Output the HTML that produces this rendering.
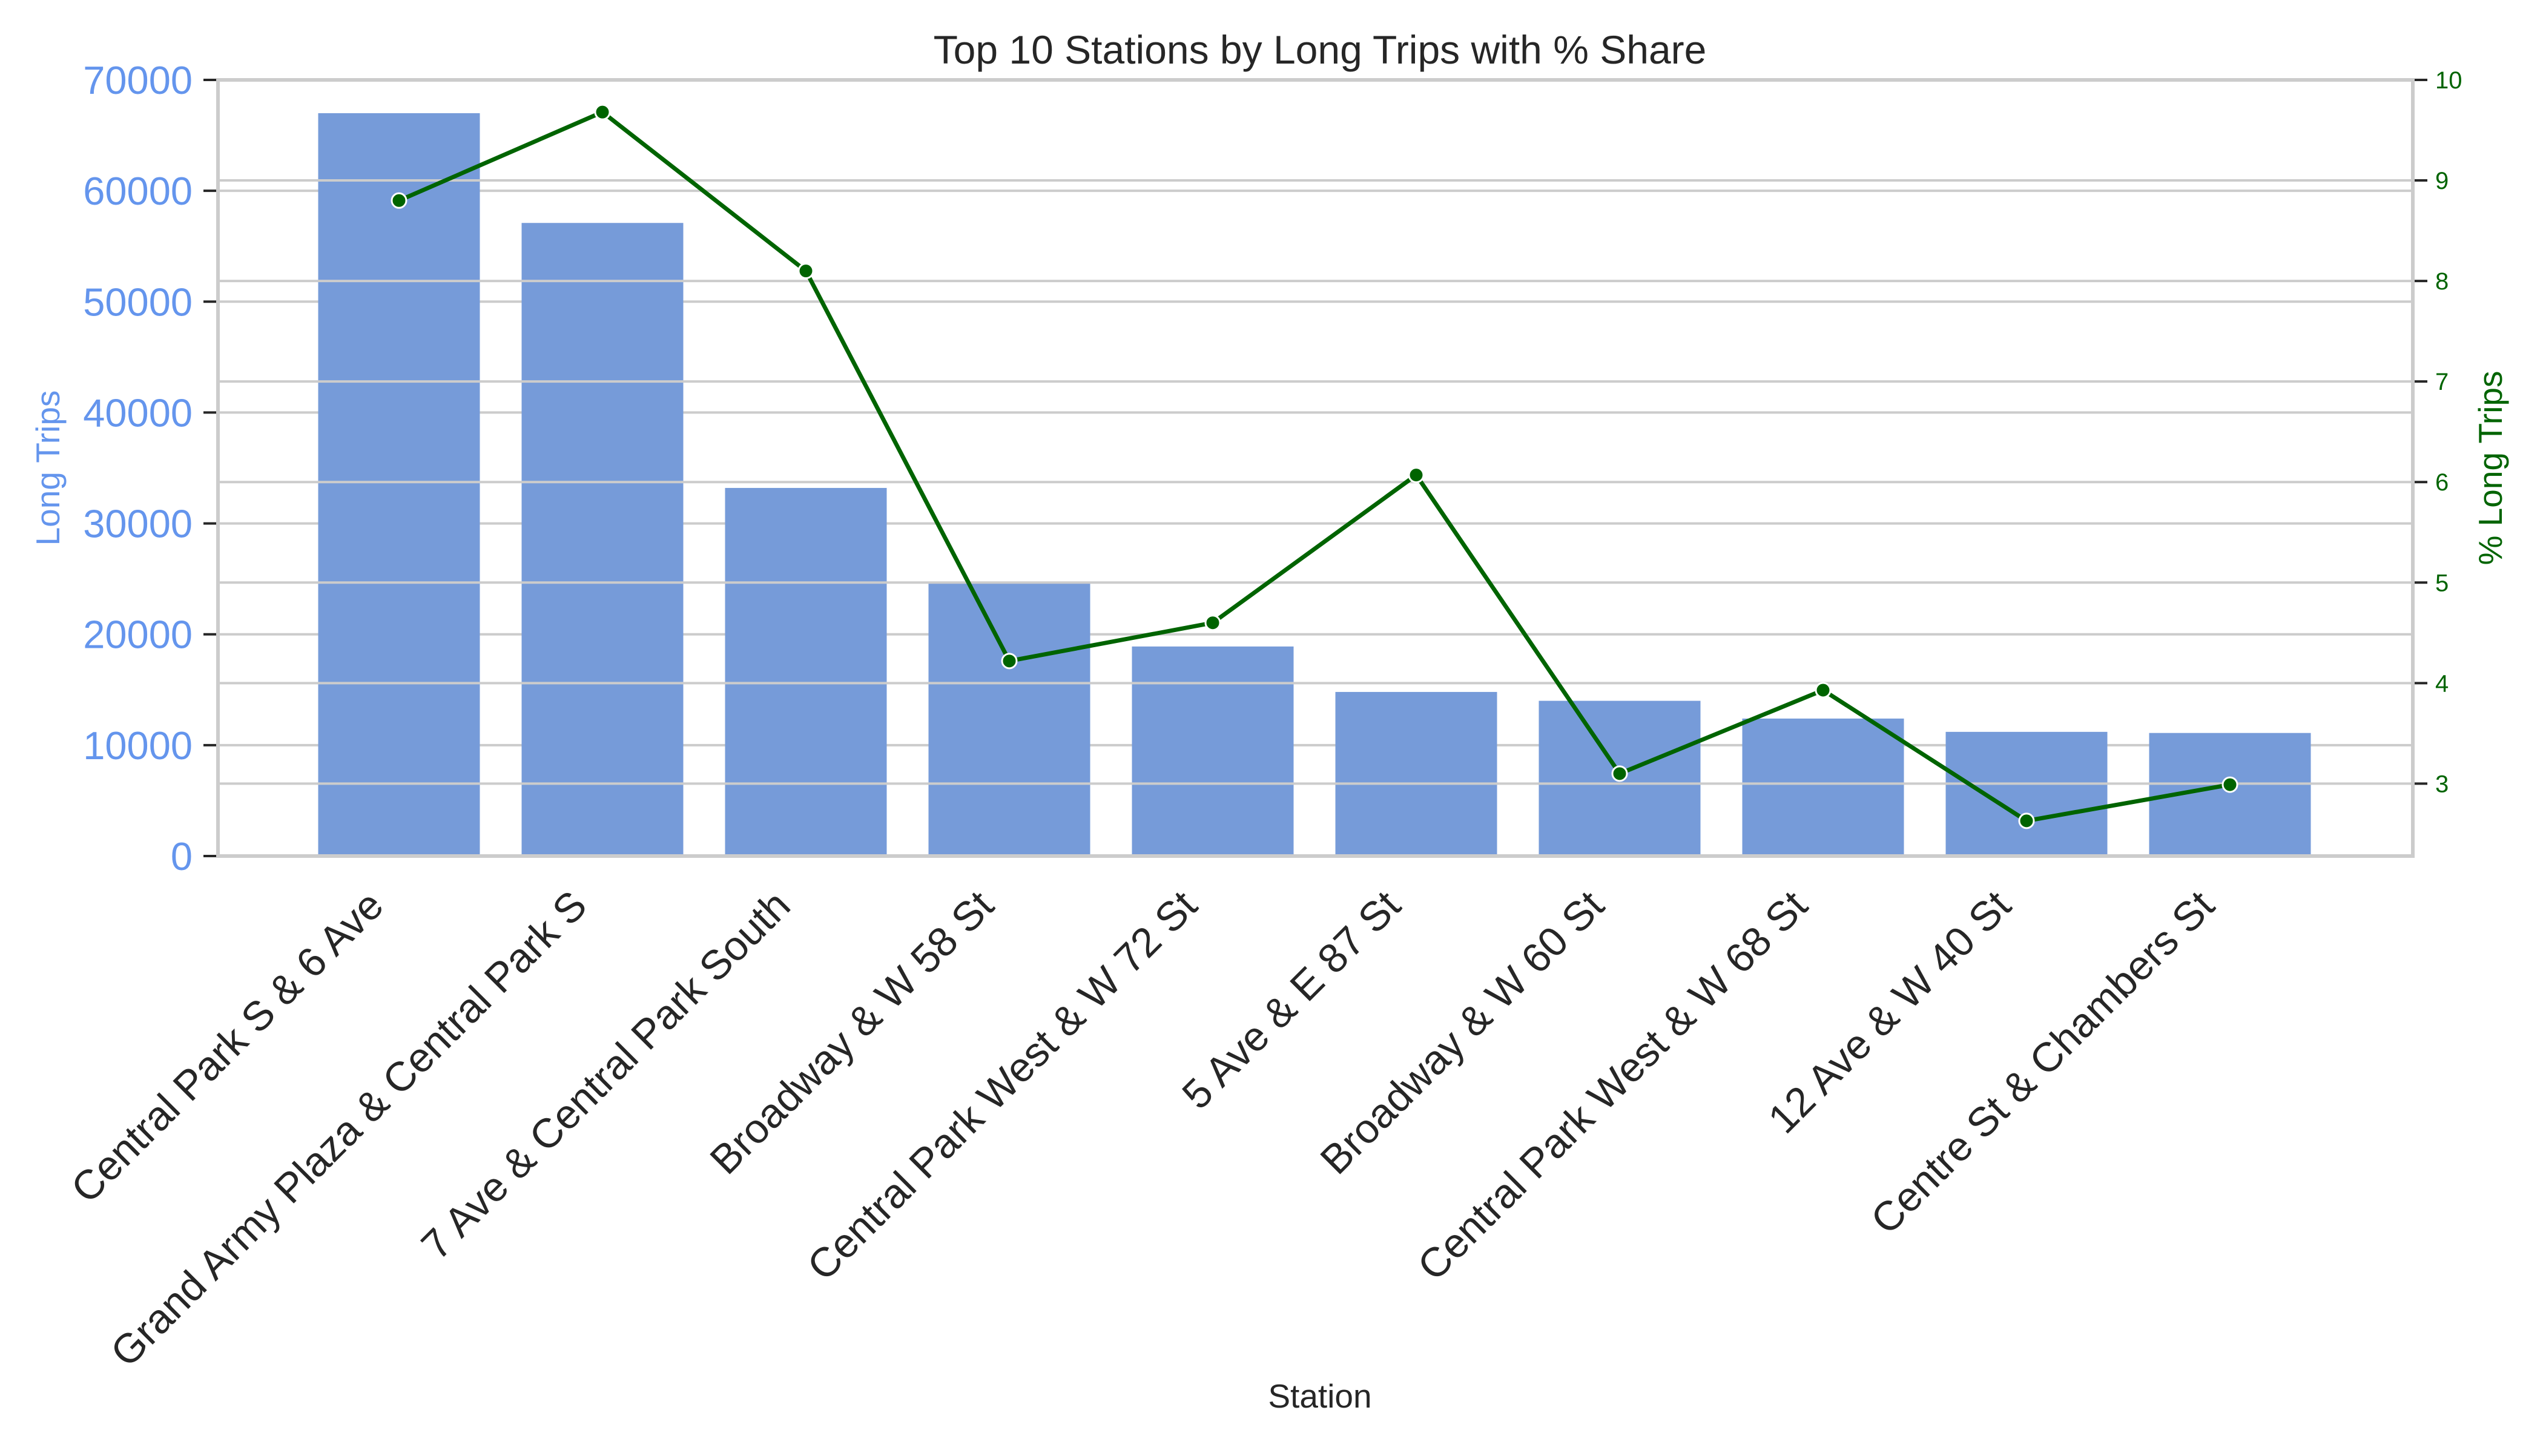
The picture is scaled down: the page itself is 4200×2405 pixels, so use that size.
<!DOCTYPE html>
<html><head><meta charset="utf-8"><style>
html,body{margin:0;padding:0;background:#fff;}
svg text{font-family:"Liberation Sans",sans-serif;}
</style></head><body>
<svg id="chart" width="4200" height="2400" viewBox="0 0 4200 2400" xmlns="http://www.w3.org/2000/svg">
<rect width="4200" height="2400" fill="#fff"/>
<g id="gridL"></g><g id="bars"></g><g id="gridR"></g><g id="line"></g><g id="axes"></g>
<text x="2180" y="105" font-size="66" text-anchor="middle" fill="#262626">Top 10 Stations by Long Trips with % Share</text>
<text x="2180" y="2325" font-size="55" text-anchor="middle" fill="#262626">Station</text>
<text transform="translate(98,773) rotate(-90)" font-size="55" text-anchor="middle" fill="#6495ed">Long Trips</text>
<text transform="translate(4132,773) rotate(-90)" font-size="55" text-anchor="middle" fill="#006400">% Long Trips</text>
</svg>
<script>
const categories=["Central Park S & 6 Ave","Grand Army Plaza & Central Park S","7 Ave & Central Park South","Broadway & W 58 St","Central Park West & W 72 St","5 Ave & E 87 St","Broadway & W 60 St","Central Park West & W 68 St","12 Ave & W 40 St","Centre St & Chambers St"];
const longTrips=[67000,57100,33200,24700,18900,14800,14000,12400,11200,11100];
const pctLong=[8.8,9.68,8.1,4.22,4.6,6.07,3.1,3.93,2.63,2.99];
const leftTicks=[0,10000,20000,30000,40000,50000,60000,70000];
const rightTicks=[3,4,5,6,7,8,9,10];

const NS="http://www.w3.org/2000/svg";
const L=360,R=3985,T=132,B=1414;
const yMaxL=70000, yMinR=2.28, yMaxR=10;
const x0=659, step=336, bw=267;
const xc=i=>x0+i*step;
const yL=v=>B-(v/yMaxL)*(B-T);
const yR=v=>B-((v-yMinR)/(yMaxR-yMinR))*(B-T);
function mk(tag,attrs,parent){const e=document.createElementNS(NS,tag);for(const k in attrs)e.setAttribute(k,attrs[k]);document.getElementById(parent).appendChild(e);return e;}

leftTicks.forEach(v=>{
  const g=mk('line',{x1:L,x2:R,y1:yL(v),y2:yL(v),stroke:'#cccccc','stroke-width':4},'gridL');
  
  
  const t=mk('line',{x1:336,x2:358,y1:yL(v),y2:yL(v),stroke:'#262626','stroke-width':4},'axes');
  
  
  const l=mk('text',{x:318,y:yL(v)+23,'font-size':65,'text-anchor':'end',fill:'#6495ed'},'axes');
  l.textContent=v;
  
  
});
rightTicks.forEach(v=>{
  const g=mk('line',{x1:L,x2:R,y1:yR(v),y2:yR(v),stroke:'#cccccc','stroke-width':4},'gridR');
  
  
  const t=mk('line',{x1:R+2,x2:R+24,y1:yR(v),y2:yR(v),stroke:'#262626','stroke-width':4},'axes');
  
  
  const l=mk('text',{x:4022,y:yR(v)+14,'font-size':40,fill:'#006400'},'axes');
  l.textContent=v;
  
  
});
categories.forEach((c,i)=>{
  const b=mk('rect',{x:xc(i)-bw/2,y:yL(longTrips[i]),width:bw,height:B-yL(longTrips[i]),fill:'#769bd9'},'bars');
  
  
  const ax=xc(i)-22, ay=1500;
  const t=mk('text',{transform:`translate(${ax},${ay}) rotate(-45)`,'font-size':68,'text-anchor':'end',fill:'#262626'},'axes');
  t.textContent=c;
  
  
});
const pts=pctLong.map((v,i)=>xc(i)+','+yR(v)).join(' ');
const pl=mk('polyline',{points:pts,fill:'none',stroke:'#006400','stroke-width':7,'stroke-linejoin':'round'},'line');


pctLong.forEach((v,i)=>{
  const m=mk('circle',{cx:xc(i),cy:yR(v),r:12,fill:'#006400',stroke:'#fff','stroke-width':3},'line');
  
  
});
const frame=mk('rect',{x:L,y:T,width:R-L,height:B-T,fill:'none',stroke:'#cccccc','stroke-width':6},'axes');


</script>
</body></html>
